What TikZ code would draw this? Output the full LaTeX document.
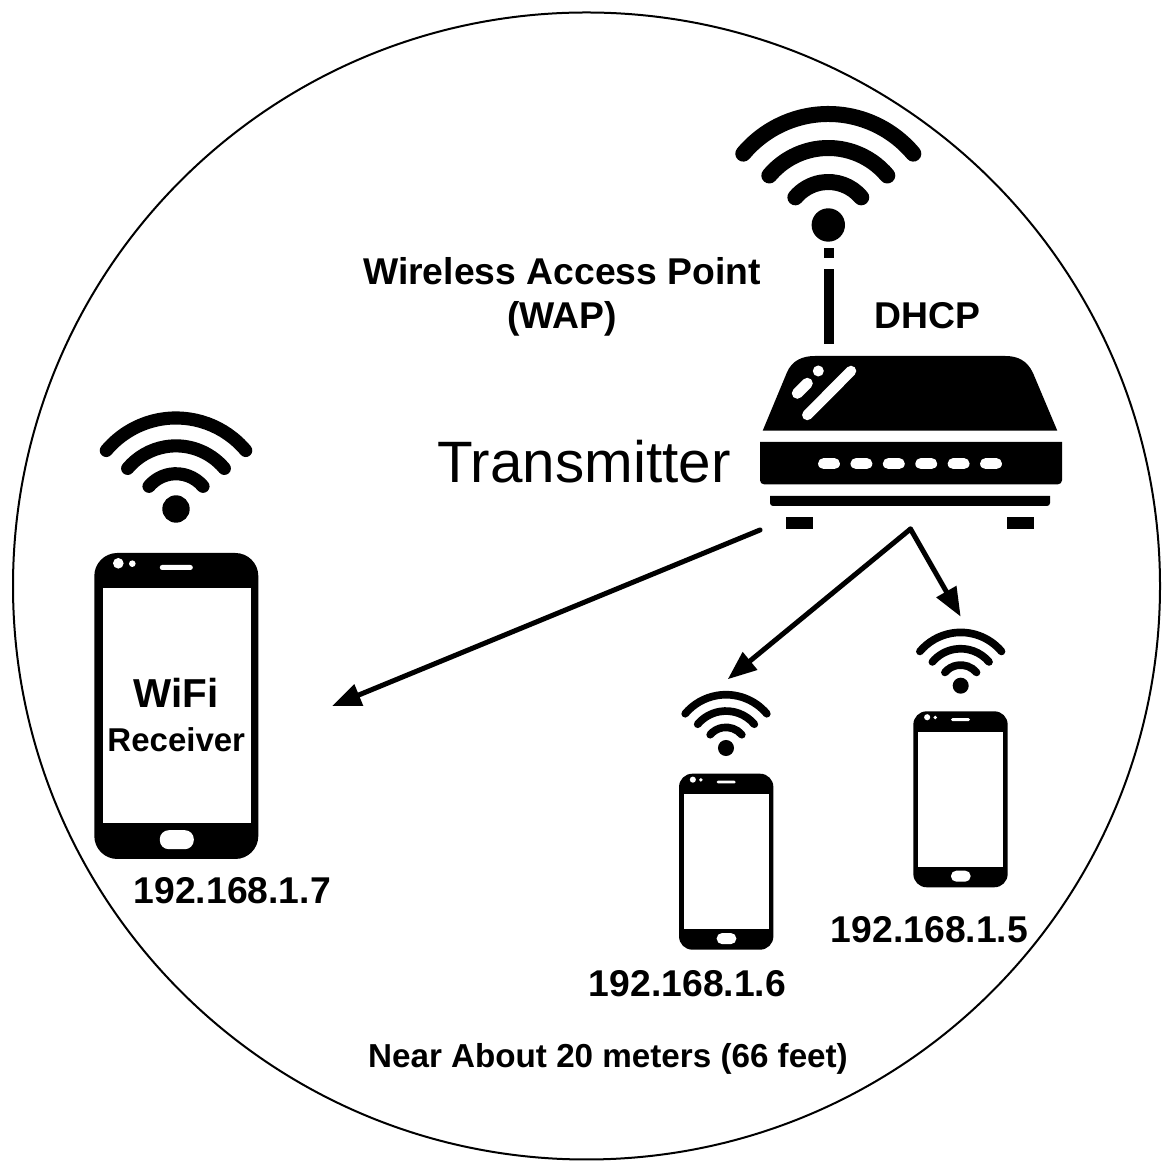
\documentclass[tikz,border=0pt]{standalone}
\usepackage{fontspec}
\setmainfont{Liberation Sans}
\usetikzlibrary{arrows.meta}
\tikzset{
  pics/wifisign/.style={code={
    \fill (0,0) circle[radius=16.7*#1];
    \foreach \r in {111,77,43}
      \draw[line width=16pt*#1, line cap=round] ({\r*#1*cos(40)},{\r*#1*sin(40)}) arc (40:140:\r*#1);
  }},
  pics/phone/.style={code={
    \begin{scope}[scale=#1]
      \fill[rounded corners=23pt*#1] (-82,-153) rectangle (82,153);
      \fill[white] (-73.6,-117.3) rectangle (74.4,117.7);
      \fill[white, rounded corners=9pt*#1] (-16.5,-143.2) rectangle (17.5,-124.2);
      \fill[white, rounded corners=2.4pt*#1] (-16.5,136) rectangle (16.5,141);
      \fill[white] (-58,142.7) circle[radius=5.3];
      \fill[white] (-44,142.3) circle[radius=3.3];
    \end{scope}
  }}
}
\begin{document}
\begin{tikzpicture}[
  x=1pt, y=1pt,
  boldtext/.style={font=\fontsize{37.3}{44}\selectfont\bfseries, inner sep=0pt, align=center},
  iplabel/.style={boldtext},
  link/.style={line width=5pt, line cap=round, -{Triangle[length=29pt,width=22pt]}}
]
\path[use as bounding box, fill=white] (0,0) rectangle (1172,1172);
\node[draw, circle, line width=2pt, minimum size=1147pt, inner sep=0pt] (range) at (586.5,586) {};

% router
\coordinate (router) at (911,708.3);
\fill (762.7,741.3) -- (786.7,799) .. controls (792,812) and (803,816) .. (815,816) -- (1005,816)
  .. controls (1017,816) and (1027,812) .. (1033,799) -- (1057.3,741.3) -- cycle;
\draw[white, line width=10.5pt, line cap=round] (807.3,757) -- (851,801);
\draw[white, line width=11pt, line cap=round] (797.3,778.7) -- (807.3,788.7);
\fill[white] (818.3,801) circle[radius=5.5];
\fill (760,730) -- (1062,730) [rounded corners=4pt] -- (1062,687.7) -- (760,687.7) [sharp corners] -- cycle;
\foreach \x in {829,861.4,893.8,926.2,958.6,991}
  \draw[white, line width=11.3pt, line cap=round] (\x-5.3,708.3) -- (\x+5.3,708.3);
\fill (770,676) -- (1050,676) [rounded corners=3pt] -- (1050,666) -- (770,666) [sharp corners] -- cycle;
\fill (786,654.7) rectangle (812.7,643.3);
\fill (1007.3,654.7) rectangle (1034,643.3);
\fill (824,902.7) rectangle (834.3,827.7);
\fill (824,924) rectangle (834.3,913.7);

% wifi signs and phones
\coordinate (wifir) at (828.3,947);
\coordinate (wifia) at (176,663);
\coordinate (wifib) at (726,424);
\coordinate (wific) at (960.7,486.3);
\coordinate (phonea) at (176.3,466);
\coordinate (phoneb) at (726.2,310.3);
\coordinate (phonec) at (960.5,372.7);
\pic at (wifir) {wifisign=1};
\pic at (wifia) {wifisign=.82};
\pic at (wifib) {wifisign=.48};
\pic at (wific) {wifisign=.48};
\pic at (phonea) {phone=1};
\pic at (phoneb) {phone=.575};
\pic at (phonec) {phone=.575};

% labels
\node[boldtext] (wap) at (562,875.5) {Wireless Access Point\\(WAP)};
\node[boldtext, above of=router, node distance=147.7pt, xshift=16.5pt] (dhcp) {DHCP};
\node[left of=router, node distance=327pt, inner sep=0pt, yshift=2pt, font=\fontsize{58.4}{60}\selectfont] (tx) {Transmitter};
\node[above of=phonea, node distance=13.5pt, inner sep=0pt, font=\fontsize{40.4}{44}\selectfont\bfseries] (wifitxt) {WiFi};
\node[below of=phonea, node distance=34pt, inner sep=0pt, font=\fontsize{33}{36}\selectfont\bfseries] (rxtxt) {Receiver};
\node[iplabel, below of=phonea, node distance=185pt, xshift=56pt] (ipa) {192.168.1.7};
\node[iplabel, below of=phoneb, node distance=122.3pt, xshift=-38.7pt] (ipb) {192.168.1.6};
\node[iplabel, below of=phonec, node distance=130.7pt, xshift=-31pt] (ipc) {192.168.1.5};
\node[inner sep=0pt, font=\fontsize{33.2}{36}\selectfont\bfseries] (dist) at (608,113) {Near About 20 meters (66 feet)};

% arrows
\coordinate (txleft) at (760,642);
\coordinate (txfork) at (910.5,643);
\coordinate (toa) at (332,466);
\coordinate (tob) at (727.7,492.7);
\coordinate (toc) at (960.7,555.3);
\draw[link] (txleft) -- (toa);
\draw[link] (txfork) -- (tob);
\draw[link] (txfork) -- (toc);
\end{tikzpicture}
\end{document}
